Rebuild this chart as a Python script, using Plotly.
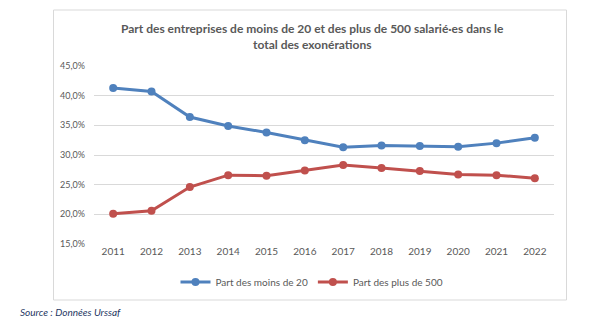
import plotly.graph_objects as go

years = [2011, 2012, 2013, 2014, 2015, 2016, 2017, 2018, 2019, 2020, 2021, 2022]
moins_20 = [41.3, 40.7, 36.4, 34.9, 33.8, 32.5, 31.3, 31.6, 31.5, 31.4, 32.0, 32.9]
plus_500 = [20.1, 20.6, 24.6, 26.6, 26.5, 27.4, 28.3, 27.8, 27.3, 26.7, 26.6, 26.1]
y_ticks = [15, 20, 25, 30, 35, 40, 45]
title_text = "Part des entreprises de moins de 20 et des plus de 500 salarié·es dans le<br>total des exonérations"
source_text = "Source : Données Urssaf"

FONT = "Lato"
BLUE = "#4F81BD"
RED = "#C0504D"

fig = go.Figure()
fig.add_trace(go.Scatter(x=years, y=moins_20, mode="lines+markers", name="Part des moins de 20",
                         line=dict(color=BLUE, width=3), marker=dict(size=8, color=BLUE)))
fig.add_trace(go.Scatter(x=years, y=plus_500, mode="lines+markers", name="Part des plus de 500",
                         line=dict(color=RED, width=3), marker=dict(size=8, color=RED)))

L, R, T, B = 94, 46, 66, 86
W, H = 600, 330
pw, ph = W - L - R, H - T - B

def px_x(x):
    return (x - L) / pw

def px_y(y):
    return (H - B - y) / ph

fig.update_layout(
    width=W, height=H,
    margin=dict(l=L, r=R, t=T, b=B),
    paper_bgcolor="white", plot_bgcolor="white",
    separators=", ",
    font=dict(family=FONT, color="#595959"),
    showlegend=True,
    legend=dict(orientation="h", x=px_x(312), xanchor="center", y=px_y(282), yanchor="middle",
                font=dict(size=10, color="#595959", family=FONT), itemwidth=30,
                bgcolor="rgba(0,0,0,0)"),
    xaxis=dict(range=[2010.5, 2022.5], tickmode="array", tickvals=years,
               ticktext=[str(y) for y in years], showgrid=False, zeroline=False,
               showline=False, tickfont=dict(size=10, color="#595959", family=FONT)),
    yaxis=dict(range=[15, 45], tickmode="array", tickvals=y_ticks,
               ticktext=[f"{v:.1f}%".replace(".", ",") for v in y_ticks],
               showgrid=True, gridcolor="#D9D9D9", gridwidth=1, zeroline=False,
               showline=False, ticklabelstandoff=8,
               tickfont=dict(size=9, color="#595959", family=FONT)),
)

fig.add_shape(type="rect", xref="paper", yref="paper",
              x0=px_x(53.5), x1=px_x(566.5), y0=px_y(300), y1=px_y(10),
              line=dict(color="#D9D9D9", width=1), layer="below")

fig.add_annotation(text="<b>" + title_text + "</b>", xref="paper", yref="paper",
                   x=px_x(312), y=px_y(37), xanchor="center", yanchor="middle",
                   showarrow=False, align="center",
                   font=dict(size=12, color="#595959", family=FONT))

fig.add_annotation(text="<i>" + source_text + "</i>", xref="paper", yref="paper",
                   x=px_x(18), y=px_y(312), xanchor="left", yanchor="middle",
                   showarrow=False, font=dict(size=10, color="#1F3864", family=FONT))

fig.write_html("out.html")
